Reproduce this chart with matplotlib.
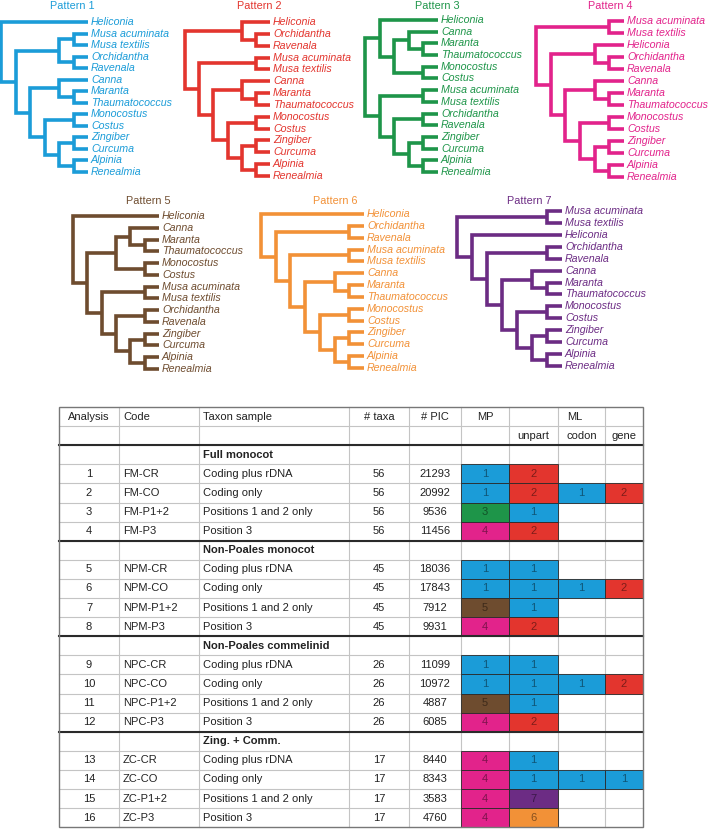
import matplotlib
matplotlib.use('Agg')
import matplotlib.pyplot as plt
from matplotlib.patches import Rectangle
from matplotlib.colors import to_rgb

plt.rcParams['font.family'] = ['Liberation Sans', 'DejaVu Sans']

# ---- tree topologies (nested tuples, tips in drawing order) ----
core = (('Canna', ('Maranta', 'Thaumatococcus')),
        (('Monocostus', 'Costus'), (('Zingiber', 'Curcuma'), ('Alpinia', 'Renealmia'))))
musa = ('Musa acuminata', 'Musa textilis')
orch_rav = ('Orchidantha', 'Ravenala')

tree1 = ('Heliconia', ((musa, orch_rav), core))
tree2 = (('Heliconia', orch_rav), (musa, core))
tree3 = (('Heliconia', (('Canna', ('Maranta', 'Thaumatococcus')), ('Monocostus', 'Costus'))),
         (musa, (orch_rav, (('Zingiber', 'Curcuma'), ('Alpinia', 'Renealmia')))))
tree4 = (musa, (('Heliconia', orch_rav), core))
tree5 = ('Heliconia', ((('Canna', ('Maranta', 'Thaumatococcus')), ('Monocostus', 'Costus')),
                       (musa, (orch_rav, (('Zingiber', 'Curcuma'), ('Alpinia', 'Renealmia'))))))
tree6 = ('Heliconia', (orch_rav, (musa, core)))
tree7 = (musa, ('Heliconia', (orch_rav, core)))

trees = [tree1, tree2, tree3, tree4, tree5, tree6, tree7]
titles = ['Pattern 1', 'Pattern 2', 'Pattern 3', 'Pattern 4', 'Pattern 5', 'Pattern 6', 'Pattern 7']
colors = ['#1B9CD8', '#E3352E', '#1E9549', '#E2238B', '#6E4C2F', '#F29137', '#6C2C84']

# layout per tree: root x, tip x, first tip y, last tip y, title x, title y
tree_pos = [
    (1, 88, 22, 172, 72, 6),
    (185, 270, 22, 176, 259, 6),
    (365, 438, 20, 172, 437, 6),
    (536, 624, 21, 177, 610, 6),
    (73, 159, 216, 369, 148, 201),
    (261, 364, 214, 368, 335, 201),
    (457, 562, 211, 366, 529, 201),
]

# ---- table data ----
groups = ['Full monocot', 'Non-Poales monocot', 'Non-Poales commelinid', 'Zing. + Comm.']
analysis = list(range(1, 17))
codes = ['FM-CR', 'FM-CO', 'FM-P1+2', 'FM-P3',
         'NPM-CR', 'NPM-CO', 'NPM-P1+2', 'NPM-P3',
         'NPC-CR', 'NPC-CO', 'NPC-P1+2', 'NPC-P3',
         'ZC-CR', 'ZC-CO', 'ZC-P1+2', 'ZC-P3']
samples = ['Coding plus rDNA', 'Coding only', 'Positions 1 and 2 only', 'Position 3',
           'Coding plus rDNA', 'Coding only', 'Positions 1 and 2 only', 'Position 3',
           'Coding plus rDNA', 'Coding only', 'Positions 1 and 2 only', 'Position 3',
           'Coding plus rDNA', 'Coding only', 'Positions 1 and 2 only', 'Position 3']
ntaxa = [56, 56, 56, 56, 45, 45, 45, 45, 26, 26, 26, 26, 17, 17, 17, 17]
npic = [21293, 20992, 9536, 11456, 18036, 17843, 7912, 9931,
        11099, 10972, 4887, 6085, 8440, 8343, 3583, 4760]
mp = [1, 1, 3, 4, 1, 1, 5, 4, 1, 1, 5, 4, 4, 4, 4, 4]
unpart = [2, 2, 1, 2, 1, 1, 1, 2, 1, 1, 1, 2, 1, 1, 7, 6]
codon = [None, 1, None, None, None, 1, None, None, None, 1, None, None, None, 1, None, None]
gene = [None, 2, None, None, None, 2, None, None, None, 2, None, None, None, 1, None, None]

fig = plt.figure(figsize=(7.1, 8.3), dpi=100)
ax = fig.add_axes([0, 0, 1, 1])
ax.set_xlim(0, 710)
ax.set_ylim(830, 0)
ax.axis('off')


def height(node):
    if isinstance(node, str):
        return 0
    return 1 + max(height(c) for c in node)


def draw_tree(tree, pos, color, title):
    root_x, tip_x, y0, y1, tx, ty = pos
    n_tips = 14
    dy = (y1 - y0) / (n_tips - 1)
    step = (tip_x - root_x) / height(tree)
    counter = [0]

    def walk(node):
        if isinstance(node, str):
            y = y0 + counter[0] * dy
            counter[0] += 1
            ax.text(tip_x + 3, y, node, ha='left', va='center', fontsize=7.7,
                    style='italic', color=color)
            return tip_x, y
        x = tip_x - height(node) * step
        kids = [walk(c) for c in node]
        y = sum(k[1] for k in kids) / len(kids)
        for kx, ky in kids:
            ax.plot([x, x, kx], [y, ky, ky], color=color, lw=2.6,
                    solid_joinstyle='miter', solid_capstyle='butt')
        return x, y

    walk(tree)
    ax.text(tx, ty, title, ha='center', va='center', fontsize=7.8, color=color)


for t, p, c, ttl in zip(trees, tree_pos, colors, titles):
    draw_tree(t, p, c, ttl)

# ---- table ----
col_edges = [59, 119, 199, 349, 409, 461, 509, 558, 605, 643]
top = 407
row_h = 19.1
n_rows = 22
bottom = top + n_rows * row_h
txt = '#222222'
fs = 8


def darker(c, f=0.45):
    r, g, b = to_rgb(c)
    return (r * (1 - f), g * (1 - f), b * (1 - f))


# light grid
for i in range(1, n_rows):
    y = top + i * row_h
    ax.plot([col_edges[0], col_edges[-1]], [y, y], color='#c4c4c4', lw=0.8, zorder=1)
for x in col_edges[1:-1]:
    ax.plot([x, x], [top, bottom], color='#c4c4c4', lw=0.8, zorder=1)

# header
hy1 = top + row_h / 2
hy2 = top + 1.5 * row_h
cx = [(col_edges[i] + col_edges[i + 1]) / 2 for i in range(9)]
ax.text(cx[0], hy1, 'Analysis', ha='center', va='center', fontsize=fs, color=txt)
ax.text(col_edges[1] + 4, hy1, 'Code', ha='left', va='center', fontsize=fs, color=txt)
ax.text(col_edges[2] + 4, hy1, 'Taxon sample', ha='left', va='center', fontsize=fs, color=txt)
ax.text(cx[3], hy1, '# taxa', ha='center', va='center', fontsize=fs, color=txt)
ax.text(cx[4], hy1, '# PIC', ha='center', va='center', fontsize=fs, color=txt)
ax.text(cx[5], hy1, 'MP', ha='center', va='center', fontsize=fs, color=txt)
ax.text(cx[7] - 7, hy1, 'ML', ha='center', va='center', fontsize=fs, color=txt)
ax.text(cx[6], hy2, 'unpart', ha='center', va='center', fontsize=fs, color=txt)
ax.text(cx[7], hy2, 'codon', ha='center', va='center', fontsize=fs, color=txt)
ax.text(cx[8], hy2, 'gene', ha='center', va='center', fontsize=fs, color=txt)

row = 2
for g, name in enumerate(groups):
    ys = top + row * row_h
    ax.plot([col_edges[0], col_edges[-1]], [ys, ys], color='#2a2a2a', lw=1.5, zorder=4)
    ax.text(col_edges[2] + 4, ys + row_h / 2, name, ha='left', va='center',
            fontsize=fs, color=txt, fontweight='bold')
    row += 1
    for k in range(4):
        i = g * 4 + k
        y = top + row * row_h
        yc = y + row_h / 2
        ax.text(cx[0], yc, str(analysis[i]), ha='center', va='center', fontsize=fs, color=txt)
        ax.text(col_edges[1] + 4, yc, codes[i], ha='left', va='center', fontsize=fs, color=txt)
        ax.text(col_edges[2] + 4, yc, samples[i], ha='left', va='center', fontsize=fs, color=txt)
        ax.text(cx[3], yc, str(ntaxa[i]), ha='center', va='center', fontsize=fs, color=txt)
        ax.text(cx[4], yc, str(npic[i]), ha='center', va='center', fontsize=fs, color=txt)
        for col, vals in zip([5, 6, 7, 8], [mp, unpart, codon, gene]):
            v = vals[i]
            if v is None:
                continue
            c = colors[v - 1]
            ax.add_patch(Rectangle((col_edges[col], y), col_edges[col + 1] - col_edges[col],
                                   row_h, facecolor=c, edgecolor='#2a2a2a', lw=0.6, zorder=3))
            ax.text(cx[col], yc, str(v), ha='center', va='center', fontsize=fs,
                    color=darker(c), zorder=5)
        row += 1

# outer border
ax.add_patch(Rectangle((col_edges[0], top), col_edges[-1] - col_edges[0], bottom - top,
                       fill=False, edgecolor='#777777', lw=1.0, zorder=6))

fig.savefig('out.png', dpi=100)
